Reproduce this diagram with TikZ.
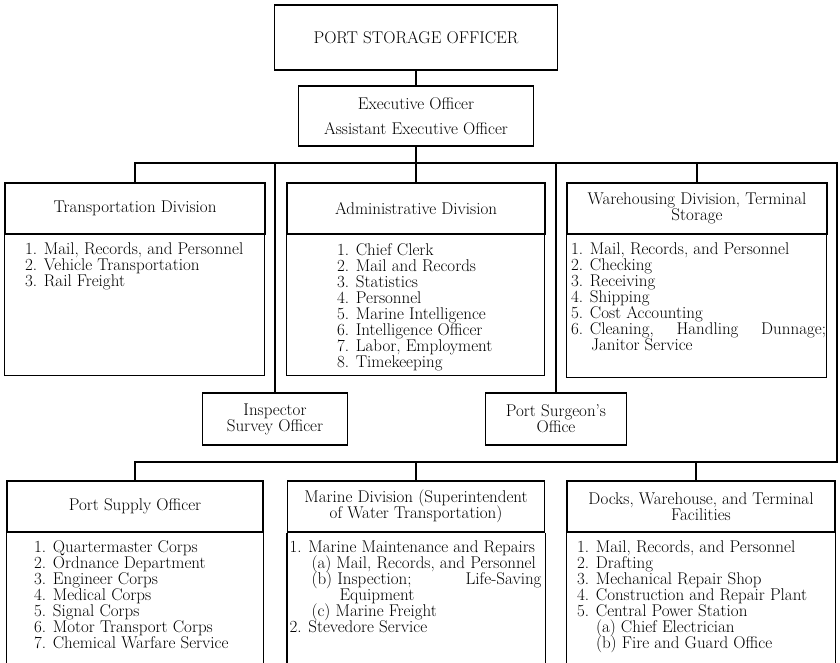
\documentclass[tikz,border=0pt]{standalone}
\usepackage{fontspec}
\usetikzlibrary{positioning}
\begin{document}
\begin{tikzpicture}[x=1pt, y=-1pt, line width=1.1pt,
  font={\fontsize{17}{16}\selectfont\lineskiplimit=-20pt\lineskip=0pt},
  office/.style={draw, rectangle, inner sep=0pt, align=center},
  divhead/.style={draw, rectangle, inner sep=0pt, align=center, minimum height=51pt},
  duties/.style={anchor=north west, inner sep=0pt, align=left}]

% Frame
\useasboundingbox (0,0) rectangle (840,662);

% Head offices
\node[office, minimum width=283pt, minimum height=65pt] (pso) at (416,37.5) {PORT STORAGE OFFICER};
\node[office, minimum width=235pt, minimum height=60pt] (exec) at (416,116) {Executive Officer\\[9pt]Assistant Executive Officer};

% Upper divisions
\node[divhead, minimum width=260pt] (trans) at (135,208.5) {Transportation Division};
\node[divhead, minimum width=258pt] (admin) at (416,208.5) {Administrative Division};
\node[divhead, minimum width=260pt] (ware) at (697,208.5) {Warehousing Division, Terminal\\Storage};
\draw (trans.south west) rectangle ++(260,141);
\draw (admin.south west) rectangle ++(258,141);
\draw (ware.south west) rectangle ++(260,143);

\node[duties] (translist) at ([shift={(20,8)}]trans.south west)
  {1. Mail, Records, and Personnel\\2. Vehicle Transportation\\3. Rail Freight};
\node[duties] (adminlist) at ([shift={(50,8)}]admin.south west)
  {1. Chief Clerk\\2. Mail and Records\\3. Statistics\\4. Personnel\\5. Marine Intelligence\\6. Intelligence Officer\\7. Labor, Employment\\8. Timekeeping};
\node[duties] (warelist) at ([shift={(4,8)}]ware.south west)
  {1. Mail, Records, and Personnel\\2. Checking\\3. Receiving\\4. Shipping\\5. Cost Accounting\\\makebox[255pt][l]{6. Cleaning,\hfill Handling\hfill Dunnage;}\\\hspace*{20pt}Janitor Service};

% Staff offices
\node[office, minimum width=145pt, minimum height=52pt] (insp) at (275,419) {Inspector\\Survey Officer};
\node[office, minimum width=141pt, minimum height=52pt] (surg) at (556,419) {Port Surgeon's\\Office};

% Lower divisions (open at the foot of the page)
\node[divhead, minimum width=256pt] (supply) at (135,506.5) {Port Supply Officer};
\node[divhead, minimum width=257pt] (marine) at (416,506.5) {Marine Division (Superintendent\\of Water Transportation)};
\node[divhead, minimum width=268pt] (docks) at (701,506.5) {Docks, Warehouse, and Terminal\\Facilities};
\draw (supply.south west) -- ++(0,140) (supply.south east) -- ++(0,140);
\draw (marine.south west) -- ++(0,140) (marine.south east) -- ++(0,140);
\draw (docks.south west) -- ++(0,140) (docks.south east) -- ++(0,140);

\node[duties] (supplylist) at ([shift={(27,8)}]supply.south west)
  {1. Quartermaster Corps\\2. Ordnance Department\\3. Engineer Corps\\4. Medical Corps\\5. Signal Corps\\6. Motor Transport Corps\\7. Chemical Warfare Service};
\node[duties] (marinelist) at ([shift={(2,8)}]marine.south west)
  {1. Marine Maintenance and Repairs\\\hspace*{22pt}(a) Mail, Records, and Personnel\\\hspace*{22pt}\makebox[230pt][l]{(b) Inspection;\hfill Life-Saving}\\\hspace*{50pt}Equipment\\\hspace*{22pt}(c) Marine Freight\\2. Stevedore Service};
\node[duties] (dockslist) at ([shift={(10,8)}]docks.south west)
  {1. Mail, Records, and Personnel\\2. Drafting\\3. Mechanical Repair Shop\\4. Construction and Repair Plant\\5. Central Power Station\\\hspace*{19pt}(a) Chief Electrician\\\hspace*{19pt}(b) Fire and Guard Office};

% Connectors
\coordinate (busR) at (837,163);
\coordinate (lowR) at (837,462);
\draw (pso) -- (exec);
\draw (exec) -- (admin);
\draw (trans.north) |- (busR) -- (lowR) -| (supply.north);
\draw (ware.north) -- (ware.north |- busR);
\draw (insp.north) -- (insp.north |- busR);
\draw (surg.north) -- (surg.north |- busR);
\draw (marine.north) -- (marine.north |- lowR);
\draw ([xshift=-5pt]docks.north) -- ([xshift=-5pt]docks.north |- lowR);

\end{tikzpicture}
\end{document}
